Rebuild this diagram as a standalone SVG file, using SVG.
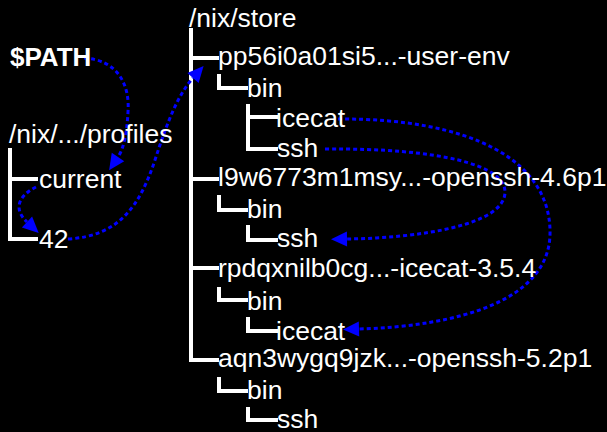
<svg xmlns="http://www.w3.org/2000/svg" width="607" height="432" viewBox="0 0 607 432">
<style>
text{font-family:"Liberation Sans",Arial,Helvetica,sans-serif;font-size:26.5px;fill:#fff}
.b{font-weight:bold;font-size:26px}
.tree{fill:none;stroke:#fff;stroke-width:4;stroke-linejoin:miter;stroke-linecap:butt}
.arr{fill:none;stroke:#00f;stroke-width:3;stroke-dasharray:4 3;marker-end:url(#ah)}
</style>
<defs>
<marker id="ah" markerUnits="userSpaceOnUse" markerWidth="17" markerHeight="16" refX="0" refY="7.5" orient="auto" overflow="visible">
<path d="M0 0 L16 7.5 L0 15 Z" fill="#00f"/>
</marker>
</defs>
<rect width="607" height="432" fill="#000"/>
<g id="connectors">
<path class="tree" d="M10 148 V239 H38 M10 179 H38"/>
<path class="tree" d="M191 28 V360 H219 M191 58 H219 M191 179 H219 M191 268 H219"/>
<path class="tree" d="M219 74 V88 H248 M248 104 V149 H278 M248 117 H278"/>
<path class="tree" d="M219 195 V210 H248 M248 225 V240 H278"/>
<path class="tree" d="M219 287 V300 H248 M248 317 V331 H278"/>
<path class="tree" d="M219 377 V391 H248 M248 407 V420 H278"/>
<path class="arr" d="M84 58 C118 60 130 85 128 112 C127 132 124 148 118 157"/>
<path class="arr" d="M36 187 C20 195 12 208 27 222"/>
<path class="arr" d="M68 239 C120 236 140 205 155 160 C168 120 178 95 193 78"/>
<path class="arr" d="M338 119 C470 118 552 160 550 235 C548 300 460 326 359 329"/>
<path class="arr" d="M325 149 C440 148 505 165 505 192 C505 225 420 238 347 239"/>
</g>
<g id="path"><text class="b" x="10" y="66">$PATH</text></g>
<g id="profiles"><text x="9" y="143">/nix/.../profiles</text></g>
<g id="current"><text x="39" y="188">current</text></g>
<g id="n42"><text x="39" y="248">42</text></g>
<g id="store"><text x="189" y="27">/nix/store</text></g>
<g id="userenv"><text x="218" y="65">pp56i0a01si5...-user-env</text></g>
<g id="userenv-bin"><text x="247" y="97">bin</text></g>
<g id="userenv-icecat"><text x="276" y="127">icecat</text></g>
<g id="userenv-ssh"><text x="277" y="157">ssh</text></g>
<g id="openssh46"><text x="218" y="186">l9w6773m1msy...-openssh-4.6p1</text></g>
<g id="openssh46-bin"><text x="247" y="218">bin</text></g>
<g id="openssh46-ssh"><text x="277" y="247">ssh</text></g>
<g id="icecat354"><text x="218" y="277">rpdqxnilb0cg...-icecat-3.5.4</text></g>
<g id="icecat354-bin"><text x="247" y="310">bin</text></g>
<g id="icecat354-icecat"><text x="276" y="340">icecat</text></g>
<g id="openssh52"><text x="218" y="367">aqn3wygq9jzk...-openssh-5.2p1</text></g>
<g id="openssh52-bin"><text x="247" y="399">bin</text></g>
<g id="openssh52-ssh"><text x="277" y="428">ssh</text></g>
</svg>
